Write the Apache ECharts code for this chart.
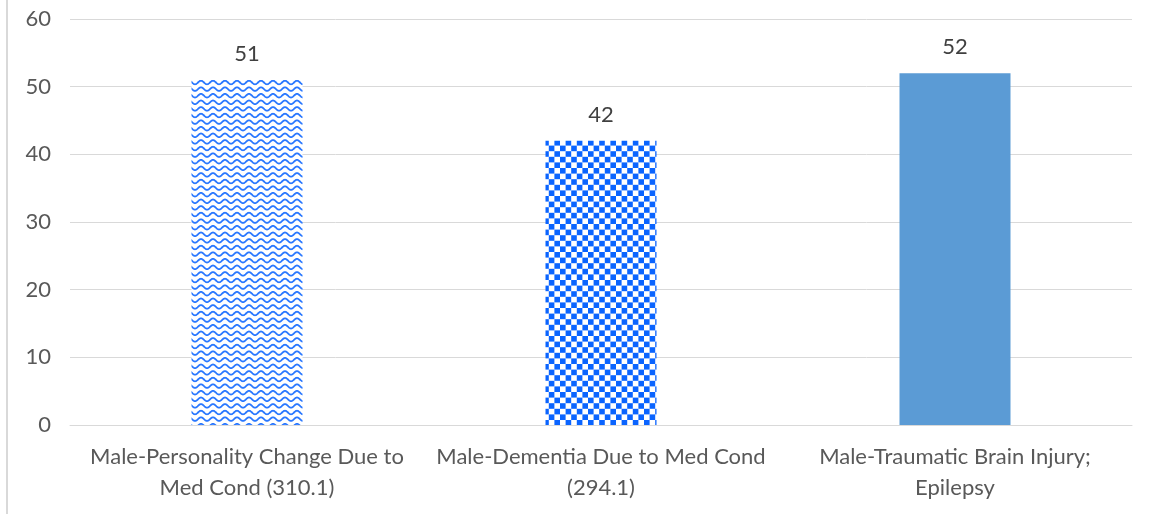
<html>
<head>
    <meta charset="utf-8">
</head>
<body style="margin:0;background:#fff">
    <script src="https://cdn.jsdelivr.net/npm/echarts@6/dist/echarts.min.js"></script>
    <div id="main" style="width: 1153px;height: 514px"></div>
    <script>

var categories = [
    'Male-Personality Change Due to\nMed Cond (310.1)',
    'Male-Dementia Due to Med Cond\n(294.1)',
    'Male-Traumatic Brain Injury;\nEpilepsy'
];
var values = [51, 42, 52];
var yTicks = [0, 10, 20, 30, 40, 50, 60];

// wave pattern tile
function wavePattern() {
    var w = 12, h = 6.6;
    var c = document.createElement('canvas');
    c.width = w; c.height = 33;
    var ctx = c.getContext('2d');
    ctx.fillStyle = '#fff';
    ctx.fillRect(0, 0, w, 33);
    ctx.strokeStyle = '#2a78ff';
    ctx.lineWidth = 1.8;
    for (var r = -1; r < 6; r++) {
        ctx.beginPath();
        for (var x = -1; x <= w + 1; x += 0.5) {
            var y = r * h + 3.3 + 1.8 * Math.sin(x / w * Math.PI * 2);
            if (x === -1) ctx.moveTo(x, y); else ctx.lineTo(x, y);
        }
        ctx.stroke();
    }
    return c;
}

// checker pattern tile
function checkerPattern() {
    var s = 5.6;
    var c = document.createElement('canvas');
    c.width = 56; c.height = 56;
    var ctx = c.getContext('2d');
    ctx.fillStyle = '#fff';
    ctx.fillRect(0, 0, 56, 56);
    ctx.fillStyle = '#0a64ff';
    for (var i = 0; i < 10; i++) {
        for (var j = 0; j < 10; j++) {
            if ((i + j) % 2 === 0) ctx.fillRect(i * s, j * s, s, s);
        }
    }
    return c;
}

var barColors = [
    { image: wavePattern(), repeat: 'repeat' },
    { image: checkerPattern(), repeat: 'repeat' },
    '#5b9bd5'
];

var myChart = echarts.init(document.getElementById('main'));

option = {
    animation: false,
    textStyle: { fontFamily: 'Lato' },
    graphic: [{
        type: 'line',
        shape: { x1: 7, y1: 0, x2: 7, y2: 514 },
        style: { stroke: '#d9d9d9', lineWidth: 2 }
    }],
    grid: { left: 70, right: 21, top: 19, bottom: 89 },
    xAxis: {
        type: 'category',
        data: categories,
        axisTick: { show: false },
        axisLine: { lineStyle: { color: '#d9d9d9' } },
        axisLabel: {
            color: '#595959',
            fontSize: 22,
            lineHeight: 31,
            margin: 16,
            interval: 0
        }
    },
    yAxis: {
        type: 'value',
        min: yTicks[0],
        max: yTicks[yTicks.length - 1],
        interval: 10,
        axisLabel: { color: '#595959', fontSize: 22, margin: 19 },
        splitLine: { lineStyle: { color: '#d9d9d9' } }
    },
    series: [{
        type: 'bar',
        barWidth: 111,
        data: values.map(function (v, i) {
            return { value: v, itemStyle: { color: barColors[i] } };
        }),
        label: {
            show: true,
            position: 'top',
            distance: 15,
            color: '#404040',
            fontSize: 22
        }
    }]
};

myChart.setOption(option);
</script>
</body>
</html>
